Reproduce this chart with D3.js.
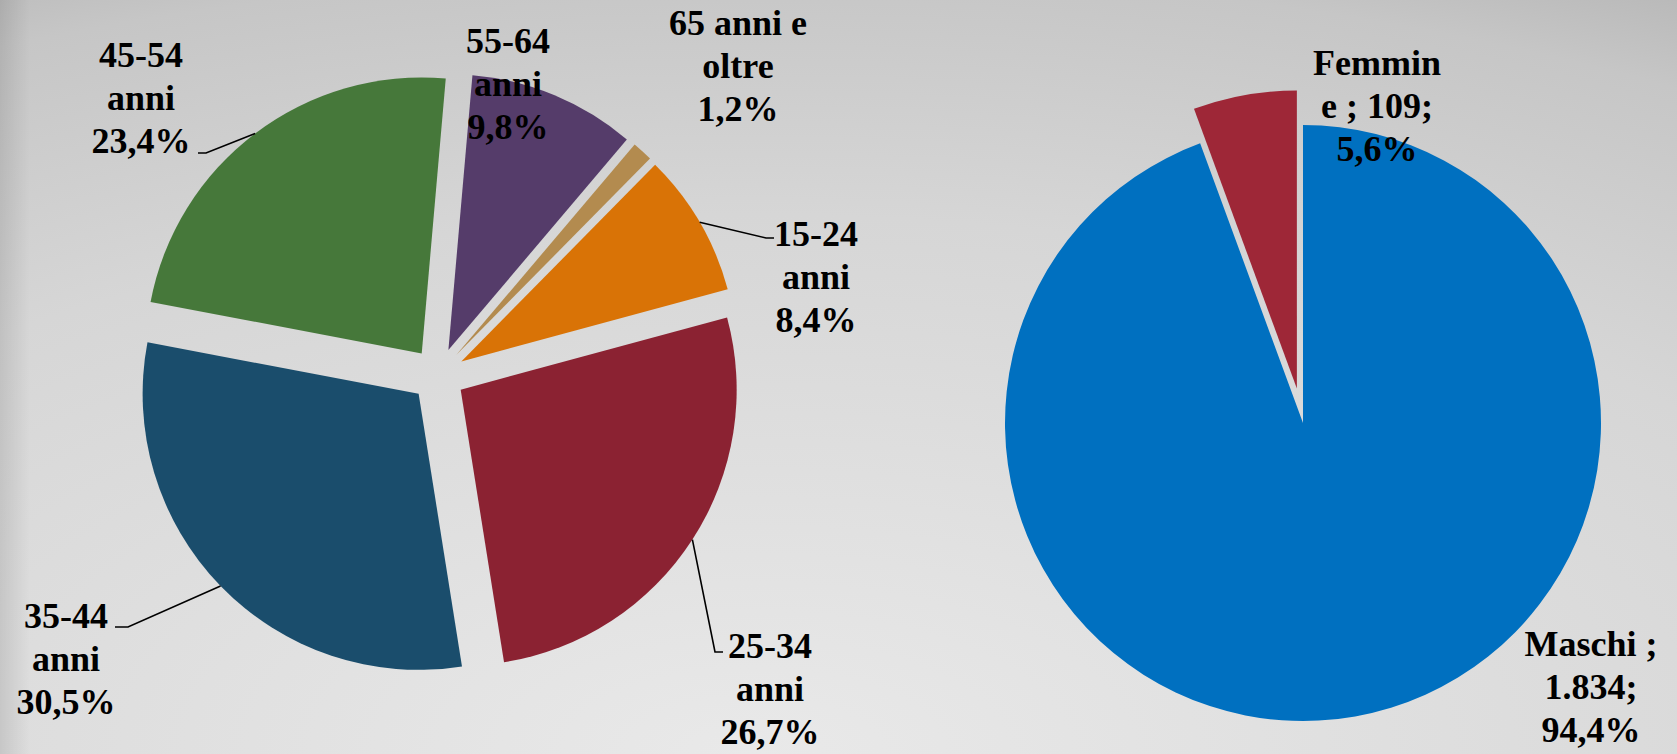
<!DOCTYPE html>
<html>
<head>
<meta charset="utf-8">
<script src="https://cdn.jsdelivr.net/npm/d3@7"></script>
<style>
    html, body { margin: 0; padding: 0; background: #d4d4d4; }
    svg { display: block; }
</style>
</head>
<body>
<svg id="grafico" width="1677" height="754"></svg>
<script>
// dati: fasce di età (percentuali)
const categorieEta = ["55-64 anni", "65 anni e oltre", "15-24 anni", "25-34 anni", "35-44 anni", "45-54 anni"];
const percentualiEta = [9.8, 1.2, 8.4, 26.7, 30.5, 23.4];
const coloriEta = ["#553c6a", "#b38b4f", "#d97306", "#8b2232", "#1a4d6c", "#46783a"];
// righe del nome come appaiono nell'etichetta
const righeEta = [["55-64", "anni"], ["65 anni e", "oltre"], ["15-24", "anni"], ["25-34", "anni"], ["35-44", "anni"], ["45-54", "anni"]];

// dati: sesso (valori assoluti)
const categorieSesso = ["Maschi", "Femmine"];
const valoriSesso = [1834, 109];
const coloriSesso = ["#0070c0", "#9e2737"];
const righeSesso = [["Maschi ;"], ["Femmin", "e ;"]];

var svg = d3.select("#grafico"),
    width = +svg.attr("width"),
    height = +svg.attr("height");

var loc = d3.formatLocale({ decimal: ",", thousands: ".", grouping: [3], currency: ["€", ""] });
var formatoPerc = loc.format(".1%");
var formatoNum = loc.format(",d");

// sfondo grigio sfumato
var defs = svg.append("defs");
var grad = defs.append("radialGradient")
    .attr("id", "sfondo")
    .attr("cx", 0.45).attr("cy", 1.0).attr("r", 1.3)
    .attr("fx", 0.45).attr("fy", 1.0);
grad.append("stop").attr("offset", "0").attr("stop-color", "#e9e9e9");
grad.append("stop").attr("offset", "0.55").attr("stop-color", "#d6d6d6");
grad.append("stop").attr("offset", "0.8").attr("stop-color", "#c6c6c6");
grad.append("stop").attr("offset", "1").attr("stop-color", "#a6a6a6");

var bordo = defs.append("linearGradient").attr("id", "bordo")
    .attr("x1", 0).attr("x2", 1).attr("y1", 0).attr("y2", 0);
bordo.append("stop").attr("offset", "0").attr("stop-color", "#000").attr("stop-opacity", 0.1);
bordo.append("stop").attr("offset", "1").attr("stop-color", "#000").attr("stop-opacity", 0);

svg.append("rect").attr("width", width).attr("height", height).attr("fill", "url(#sfondo)");
svg.append("rect").attr("width", 30).attr("height", height).attr("fill", "url(#bordo)");

var font = "'Liberation Serif', 'Times New Roman', serif";
var interlinea = 43;

function disegnaTorta(opz) {
    var torta = d3.pie().sort(null).value(function (d) { return d; })
        .startAngle(opz.inizio).endAngle(opz.inizio + 2 * Math.PI);
    var arco = d3.arc().innerRadius(0).outerRadius(opz.raggio);
    var fette = torta(opz.valori);

    var g = svg.append("g").attr("transform", "translate(" + opz.cx + "," + opz.cy + ")");

    g.selectAll("path")
        .data(fette)
        .enter()
        .append("path")
        .attr("d", arco)
        .attr("fill", function (d, i) { return opz.colori[i]; })
        .attr("transform", function (d, i) {
            var a = (d.startAngle + d.endAngle) / 2, e = opz.esplodi[i];
            return "translate(" + (e * Math.sin(a)) + "," + (-e * Math.cos(a)) + ")";
        });

    // linee guida
    fette.forEach(function (d, i) {
        var et = opz.etichette[i];
        if (!et.guida) return;
        var a = (d.startAngle + d.endAngle) / 2, rr = opz.raggio + opz.esplodi[i];
        var punti = [[opz.cx + rr * Math.sin(a), opz.cy - rr * Math.cos(a)]].concat(et.guida);
        svg.append("path")
            .attr("d", d3.line()(punti))
            .attr("fill", "none")
            .attr("stroke", "#000")
            .attr("stroke-width", 1.6);
    });

    // etichette
    fette.forEach(function (d, i) {
        var et = opz.etichette[i];
        var righe = opz.testo(i);
        var t = svg.append("text")
            .attr("x", et.x)
            .attr("y", et.y)
            .attr("text-anchor", "middle")
            .style("font-family", font)
            .style("font-weight", "bold")
            .style("font-size", "36px")
            .attr("fill", "#000");
        righe.forEach(function (r, k) {
            t.append("tspan").attr("x", et.x).attr("y", et.y + k * interlinea).text(r);
        });
    });
}

var totEta = d3.sum(percentualiEta);
disegnaTorta({
    cx: 438, cy: 375, raggio: 276, inizio: 5 * Math.PI / 180,
    valori: percentualiEta, colori: coloriEta,
    esplodi: [27, 27, 27, 27, 27, 27],
    etichette: [
        { x: 508, y: 53 },
        { x: 738, y: 35 },
        { x: 816, y: 246, guida: [[766, 238], [774, 238]] },
        { x: 770, y: 658, guida: [[715, 652], [723, 652]] },
        { x: 66, y: 628, guida: [[128, 627], [115, 627]] },
        { x: 141, y: 67, guida: [[206, 153], [198, 153]] }
    ],
    testo: function (i) {
        return righeEta[i].concat([formatoPerc(percentualiEta[i] / totEta)]);
    }
});

var totSesso = d3.sum(valoriSesso);
disegnaTorta({
    cx: 1303, cy: 423, raggio: 298, inizio: 0,
    valori: valoriSesso, colori: coloriSesso,
    esplodi: [0, 35],
    etichette: [
        { x: 1591, y: 656 },
        { x: 1377, y: 75 }
    ],
    testo: function (i) {
        var r = righeSesso[i].slice();
        var ultima = r.pop();
        var num = formatoNum(valoriSesso[i]) + ";";
        var perc = formatoPerc(valoriSesso[i] / totSesso);
        if (i === 0) return r.concat([ultima, num, perc]);
        return r.concat([ultima + " " + num, perc]);
    }
});
</script>
</body>
</html>
